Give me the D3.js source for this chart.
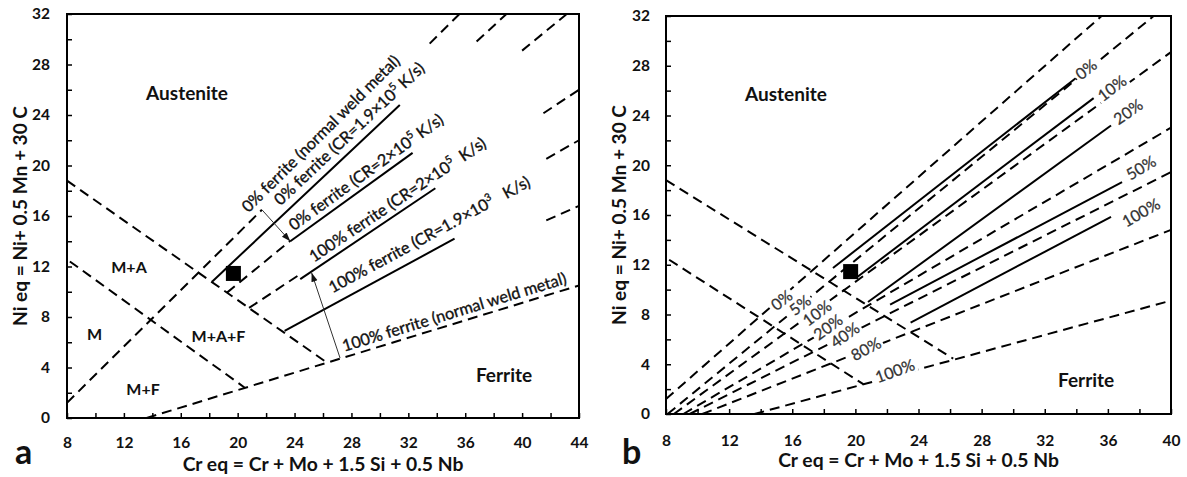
<!DOCTYPE html>
<html>
<head>
<meta charset="utf-8">
<title>Constitution diagrams: Cr eq vs Ni eq</title>
<script src="https://cdn.jsdelivr.net/npm/d3@7/dist/d3.min.js"></script>
<style>
  html, body { margin: 0; padding: 0; background: #fff; }
  svg { display: block; font-family: Lato, "Open Sans", "DejaVu Sans", sans-serif; }
</style>
</head>
<body>
<svg id="chart" width="1187" height="477"></svg>
<script>
// ---------- tick values ----------
const yTickValues = d3.range(0, 33, 2);
const xTickValuesA = d3.range(8, 45, 2);
const xTickValuesB = d3.range(8, 41, 2);

// ---------- iso-ferrite lines: [Cr eq, Ni eq] end points ----------
const isoNames = ["0%", "5%", "10%", "20%", "40%", "80%", "100%"];
const isoFrom = [[8, 1.2], [8.1, 0], [8.5, 0], [9.1, 0], [9.5, 0], [10.3, 0], [13.6, 0]];
const isoTo = [[35.6, 32], [38.9, 32], [40, 29.1], [44, 26.0], [44, 22.0], [44, 16.8], [44, 10.5]];

// ---------- martensite boundaries ----------
const boundaryFrom = [[8, 18.8], [8.2, 12.4]];
const boundaryTo = [[26.2, 4.45], [20.5, 2.4]];

// Cr eq ranges of each iso line that are drawn in panel a
const isoShownA = [
  [[8, 21.7], [33.5, 35.6]],
  [[36.8, 38.9]],
  [[19.25, 23.7], [40.0, 43.1]],
  [[20.8, 24.4], [41.5, 44]],
  [[41.7, 44]],
  [[41.7, 44]],
  [[13.6, 44]]
];

// ---------- panel a: boundaries under rapid cooling ----------
const rapidNames = ["0% ferrite (CR=1.9×10^5 K/s)", "0% ferrite (CR=2×10^5 K/s)",
                    "100% ferrite (CR=2×10^5  K/s)", "100% ferrite (CR=1.9×10^3   K/s)"];
const rapidFrom = [[18.2, 10.8], [23.7, 14.0], [24.4, 11.0], [23.3, 6.9]];
const rapidTo = [[31.4, 24.8], [32.3, 21.0], [33.9, 18.2], [35.25, 14.2]];
const normalNames = ["0% ferrite (normal weld metal)", "100% ferrite (normal weld metal)"];

// shift arrows (from normal weld metal line to rapid-cooling line)
const shiftFrom = [[21.7, 16.5], [27.2, 4.75]];
const shiftTo = [[23.7, 14.0], [25.2, 11.5]];

// ---------- panel b: predicted iso-ferrite lines ----------
const newNamesB = ["0%", "10%", "20%", "50%", "100%"];
const newFromB = [[18.58, 11.74], [20.1, 11.0], [20.8, 9.0], [22.2, 8.8], [23.5, 7.35]];
const newToB = [[33.96, 27.0], [35.1, 25.4], [36.2, 23.2], [36.9, 18.65], [36.2, 15.85]];

// weld composition
const weldPoint = [19.7, 11.45];

// ---------- phase-field names ----------
const regionNamesA = ["Austenite", "M+A", "M", "M+A+F", "M+F", "Ferrite"];
const regionNamesB = ["Austenite", "Ferrite"];

const xTitle = "Cr eq = Cr + Mo + 1.5 Si + 0.5 Nb";
const yTitle = "Ni eq = Ni+ 0.5 Mn + 30 C";

// =====================================================================
const svg = d3.select("#chart");
const defs = svg.append("defs");
defs.append("marker")
  .attr("id", "head").attr("viewBox", "0 0 10 10")
  .attr("refX", 10).attr("refY", 5)
  .attr("markerUnits", "userSpaceOnUse")
  .attr("markerWidth", 9).attr("markerHeight", 9)
  .attr("orient", "auto")
  .append("path").attr("d", "M0,1.5 L10,5 L0,8.5 Z").attr("fill", "#111");

const panelA = {
  x: d3.scaleLinear([8, 44], [67, 579]),
  y: d3.scaleLinear([0, 32], [418, 14]),
  xTicks: xTickValuesA, xPad: 19, yPad: 17, letter: "a", letterX: 15, yTitleX: 20
};
const panelB = {
  x: d3.scaleLinear([8, 40], [666, 1171]),
  y: d3.scaleLinear([0, 32], [414, 16]),
  xTicks: xTickValuesB, xPad: 21, yPad: 16, letter: "b", letterX: 622, yTitleX: 619
};

const DASH = "10,6";
const tickFont = 15.5;

function lineY(from, to, x) {
  return from[1] + (x - from[0]) * (to[1] - from[1]) / (to[0] - from[0]);
}
// extend a line from `from` through `to` until it meets the panel's right or top edge
function clipEnd(from, to, xMax, yMax) {
  const dx = to[0] - from[0], dy = to[1] - from[1];
  const t = Math.min((xMax - from[0]) / dx, dy > 0 ? (yMax - from[1]) / dy : Infinity);
  return [from[0] + t * dx, from[1] + t * dy];
}
function angleOf(p, from, to) {
  return Math.atan2(p.y(to[1]) - p.y(from[1]), p.x(to[0]) - p.x(from[0])) * 180 / Math.PI;
}
function pathOf(p) {
  return d3.line().x(d => p.x(d[0])).y(d => p.y(d[1]));
}
// text with "^n" written as a superscript
function richText(sel, str, fs) {
  const parts = str.split(/\^(.)/);
  let raised = false;
  parts.forEach((s, i) => {
    if (!s) return;
    const t = sel.append("tspan").text(s);
    if (i % 2) { t.attr("font-size", fs * 0.65).attr("dy", -fs * 0.42); raised = true; }
    else if (raised) { t.attr("dy", fs * 0.42); raised = false; }
  });
  return sel;
}
function fitFont(sel, base, target) {
  const w = sel.node().getComputedTextLength();
  const fs = base * target / w;
  sel.attr("font-size", fs);
  return fs;
}

function drawFrame(p) {
  const g = svg.append("g");
  const [xa, xb] = p.x.range();
  const [ya, yb] = p.y.range();

  const ax = g.append("g").attr("transform", `translate(0,${ya})`)
    .call(d3.axisBottom(p.x).tickValues(p.xTicks).tickSizeInner(-5).tickSizeOuter(0)
      .tickPadding(p.xPad).tickFormat(d => d % 4 === 0 ? d : ""));
  const ay = g.append("g").attr("transform", `translate(${xa},0)`)
    .call(d3.axisLeft(p.y).tickValues(yTickValues).tickSizeInner(-5).tickSizeOuter(0)
      .tickPadding(p.yPad).tickFormat(d => d % 4 === 0 ? d : ""));
  [ax, ay].forEach(a => {
    a.select(".domain").remove();
    a.attr("font-family", null).attr("font-size", tickFont).attr("font-weight", 700);
    a.selectAll(".tick line").attr("stroke", "#000").attr("stroke-width", 1.5);
    a.selectAll(".tick text").attr("fill", "#111");
  });

  g.append("rect")
    .attr("x", xa).attr("y", yb).attr("width", xb - xa).attr("height", ya - yb)
    .attr("fill", "none").attr("stroke", "#000").attr("stroke-width", 2);

  // axis titles
  const cx = (xa + xb) / 2, cy = (ya + yb) / 2;
  const xt = g.append("text").attr("x", cx).attr("y", ya + 53)
    .attr("text-anchor", "middle").attr("font-weight", 700).attr("font-size", 17)
    .attr("fill", "#111").text(xTitle);
  fitFont(xt, 17, 281);
  const yt = g.append("text")
    .attr("transform", `translate(${p.yTitleX},${cy}) rotate(-90)`)
    .attr("text-anchor", "middle").attr("dy", "0.35em")
    .attr("font-weight", 700).attr("font-size", 17).attr("fill", "#111").text(yTitle);
  fitFont(yt, 17, 220);

  g.append("text").attr("x", p.letterX).attr("y", 464)
    .attr("font-weight", 700).attr("font-size", 34).attr("fill", "#111").text(p.letter);
}

function drawDashed(g, p, pts) {
  g.append("path").attr("d", pathOf(p)(pts))
    .attr("fill", "none").attr("stroke", "#000").attr("stroke-width", 2)
    .attr("stroke-dasharray", DASH);
}
function drawSolid(g, p, pts) {
  g.append("path").attr("d", pathOf(p)(pts))
    .attr("fill", "none").attr("stroke", "#000").attr("stroke-width", 2);
}
function drawPoint(g, p) {
  const s = 15;
  g.append("rect")
    .attr("x", p.x(weldPoint[0]) - s / 2).attr("y", p.y(weldPoint[1]) - s / 2)
    .attr("width", s).attr("height", s).attr("fill", "#000");
}
function regionLabel(g, p, name, at, fs) {
  g.append("text").attr("x", p.x(at[0])).attr("y", p.y(at[1]))
    .attr("text-anchor", "middle").attr("font-weight", 700).attr("font-size", fs)
    .attr("fill", "#111").text(name);
}

// ===================== panel a =====================
drawFrame(panelA);
const ga = svg.append("g");
boundaryFrom.forEach((f, i) => drawDashed(ga, panelA, [f, boundaryTo[i]]));
isoShownA.forEach((ranges, i) => ranges.forEach(r => {
  drawDashed(ga, panelA, r.map(x => [x, lineY(isoFrom[i], isoTo[i], x)]));
}));
rapidFrom.forEach((f, i) => drawSolid(ga, panelA, [f, rapidTo[i]]));
shiftFrom.forEach((f, i) => {
  ga.append("line")
    .attr("x1", panelA.x(f[0])).attr("y1", panelA.y(f[1]))
    .attr("x2", panelA.x(shiftTo[i][0])).attr("y2", panelA.y(shiftTo[i][1]))
    .attr("stroke", "#333").attr("stroke-width", 1).attr("marker-end", "url(#head)");
});
drawPoint(ga, panelA);

// rotated line names: [text, line from, line to, start Cr eq, offset above line (px)]
const lineNotesA = [
  [normalNames[0], isoFrom[0], isoTo[0], 21.1, 7],
  [rapidNames[0], rapidFrom[0], rapidTo[0], 23.4, 8],
  [rapidNames[1], rapidFrom[1], rapidTo[1], 24.2, 6],
  [rapidNames[2], rapidFrom[2], rapidTo[2], 25.6, 6],
  [rapidNames[3], rapidFrom[3], rapidTo[3], 27.0, 10],
  [normalNames[1], isoFrom[6], isoTo[6], 27.6, 5.5]
];
let noteFont = 15;
{
  const probe = ga.append("text").attr("font-size", 15).text(normalNames[1]);
  noteFont = 15 * 234 / probe.node().getComputedTextLength();
  probe.remove();
}
lineNotesA.forEach(([txt, f, t, x0, off]) => {
  const deg = angleOf(panelA, f, t);
  const th = deg * Math.PI / 180;
  const px = panelA.x(x0) + off * Math.sin(th);
  const py = panelA.y(lineY(f, t, x0)) - off * Math.cos(th);
  const el = ga.append("text")
    .attr("transform", `translate(${px},${py}) rotate(${deg})`)
    .attr("font-size", noteFont).attr("fill", "#111")
    .attr("stroke", "#111").attr("stroke-width", 0.35)
    .style("white-space", "pre");
  richText(el, txt, noteFont);
});

const regionAtA = [[16.44, 25.2], [12.36, 11.5], [9.93, 6.2], [18.65, 6.0], [13.35, 1.85], [38.73, 2.85]];
const regionFontA = [19, 16, 16, 16, 16, 19];
regionNamesA.forEach((n, i) => regionLabel(ga, panelA, n, regionAtA[i], regionFontA[i]));

// ===================== panel b =====================
drawFrame(panelB);
const gb = svg.append("g");
boundaryFrom.forEach((f, i) => drawDashed(gb, panelB, [f, boundaryTo[i]]));
isoFrom.forEach((f, i) => drawDashed(gb, panelB, [f, clipEnd(f, isoTo[i], 40, 32)]));
newFromB.forEach((f, i) => drawSolid(gb, panelB, [f, newToB[i]]));
drawPoint(gb, panelB);

function boxedLabel(g, x, y, deg, txt, fs) {
  const lg = g.append("g").attr("transform", `translate(${x},${y}) rotate(${deg})`);
  const r = lg.append("rect").attr("fill", "#fff");
  const t = lg.append("text").attr("text-anchor", "middle").attr("dy", "0.36em")
    .attr("font-size", fs).attr("fill", "#333")
    .attr("stroke", "#333").attr("stroke-width", 0.25).text(txt);
  const bb = t.node().getBBox();
  r.attr("x", bb.x - 2).attr("y", bb.y + 2).attr("width", bb.width + 4).attr("height", bb.height - 3);
}
// iso-line names sit on their own lines
const isoNoteAt = [[15.33, 9.16], [16.49, 8.76], [17.57, 8.12], [18.27, 6.99], [19.34, 6.35], [20.67, 5.23], [22.51, 3.46]];
const isoNoteDeg = [-38, -38, -37, -36, -35, -28, -20];
isoNames.forEach((n, i) =>
  boxedLabel(gb, panelB.x(isoNoteAt[i][0]), panelB.y(isoNoteAt[i][1]), isoNoteDeg[i], n, 16));
// predicted-line names beyond the line ends
const newNoteAt = [[34.62, 27.7], [36.26, 26.2], [37.28, 24.3], [38.1, 19.8], [38.1, 16.2]];
const newNoteDeg = [-38, -37, -35, -31, -30];
newNamesB.forEach((n, i) =>
  boxedLabel(gb, panelB.x(newNoteAt[i][0]), panelB.y(newNoteAt[i][1]), newNoteDeg[i], n, 16));

const regionAtB = [[15.6, 25.2], [34.62, 2.2]];
regionNamesB.forEach((n, i) => regionLabel(gb, panelB, n, regionAtB[i], 19));
</script>
</body>
</html>
